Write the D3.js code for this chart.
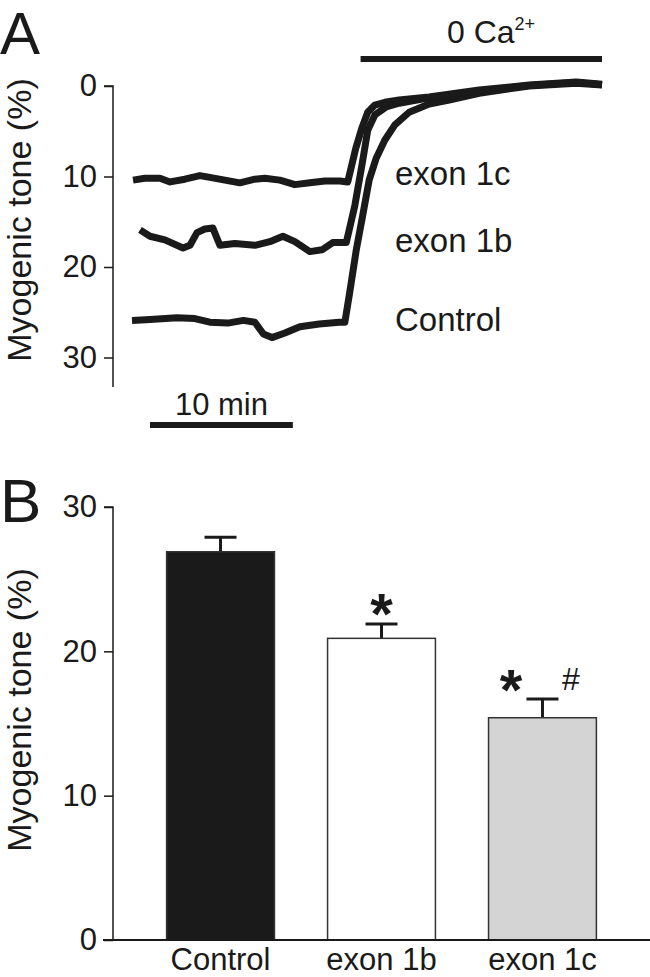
<!DOCTYPE html>
<html><head><meta charset="utf-8">
<script src="https://cdn.jsdelivr.net/npm/d3@7"></script>
<style>
html,body{margin:0;padding:0;background:#fff;}
svg{display:block;font-family:"Liberation Sans",Arial,Helvetica,sans-serif;}
</style></head>
<body>
<svg id="chart" width="650" height="977"></svg>
<script>
// ---------- Panel A data (time in min, tone in %) ----------
const controlTime = [0,1.26,3.15,4.4,5.45,6.7,7.8,8.6,9.2,9.8,10.7,11.75,13.1,14.5,14.9,15.24,15.7,16.15,16.6,17.1,17.7,18.4,19.4,20.8,22.2,24.3,27.8,31.1,32.9];
const controlTone = [25.9,25.8,25.6,25.7,26.1,26.2,25.9,26.1,27.4,27.8,27.3,26.6,26.3,26.1,26.1,22.8,18.1,14.3,10.4,7.95,5.97,4.3,2.9,2.0,1.55,0.8,0.0,-0.3,-0.1];
const exon1bTime = [0.56,1.26,2.3,3.57,4.06,4.55,5.1,5.66,6.15,7.2,8.6,9.65,10.56,11.4,12.45,13.3,14.05,15.0,15.6,16.1,16.5,17.0,17.8,18.7,20.8,24.3,27.8,31.1,32.9];
const exon1bTone = [15.9,16.6,17.0,17.9,17.6,16.2,15.8,15.7,17.6,17.4,17.6,17.2,16.6,17.2,18.3,18.1,17.3,17.3,13.2,8.7,4.9,3.2,2.3,1.9,1.3,0.55,-0.05,-0.4,-0.15];
const exon1cTime = [0.07,0.9,1.96,2.66,3.7,4.75,5.45,6.5,7.55,8.6,9.3,10.35,11.4,12.45,13.5,14.55,15.1,15.3,15.66,16.1,16.5,17.0,17.7,18.7,20.8,24.3,27.8,31.1,32.9];
const exon1cTone = [10.4,10.2,10.2,10.6,10.3,9.9,10.1,10.4,10.7,10.3,10.2,10.4,10.9,10.7,10.5,10.5,10.6,9.3,6.9,4.6,2.9,2.1,1.8,1.55,1.2,0.45,-0.1,-0.45,-0.2];
const traceLabels = ["exon 1c","exon 1b","Control"];
const traceLabelTone = [9.9,17.3,26.1];
const toneTicksA = [0,10,20,30];
const scaleBarMin = [1.26,11.26];
const zeroCaMin = [16.0,32.9];

// ---------- Panel B data ----------
const categories = ["Control","exon 1b","exon 1c"];
const meanTone = [26.9,20.9,15.4];
const semTone = [1.0,1.0,1.3];
const barFills = ["#1a1a1a","#ffffff","#d4d4d4"];
const toneTicksB = [0,10,20,30];

const svg = d3.select("#chart");
const ink = "#1a1a1a";

// ===== Panel A =====
const xA = d3.scaleLinear().domain([0,32.9]).range([132,602]);
const yA = d3.scaleLinear().domain([0,30]).range([86,357.5]);

svg.append("text").attr("x",0).attr("y",54).attr("font-size",60).attr("fill",ink).text("A");

const axA = svg.append("g").attr("transform","translate(113,0)")
  .call(d3.axisLeft(yA).tickValues(toneTicksA).tickSize(9).tickPadding(7).tickFormat(d3.format("d")));
axA.select(".domain").attr("d","M-9,"+yA(0)+"H0V387").attr("stroke",ink).attr("stroke-width",1.5);
axA.selectAll(".tick line").attr("stroke",ink).attr("stroke-width",1.5);
axA.selectAll(".tick text").attr("font-size",31).attr("fill",ink).attr("font-family","Liberation Sans, Arial, sans-serif");

svg.append("text").attr("transform","translate(31,220) rotate(-90)")
  .attr("text-anchor","middle").attr("font-size",34).attr("fill",ink).text("Myogenic tone (%)");

const lineA = d3.line().x(d=>xA(d[0])).y(d=>yA(d[1]));
const traces = [
  d3.zip(controlTime,controlTone),
  d3.zip(exon1bTime,exon1bTone),
  d3.zip(exon1cTime,exon1cTone)
];
svg.append("g").selectAll("path").data(traces).join("path")
  .attr("d",lineA).attr("fill","none").attr("stroke",ink).attr("stroke-width",7)
  .attr("stroke-linejoin","round").attr("stroke-linecap","butt");

svg.append("g").selectAll("text").data(traceLabels).join("text")
  .attr("x",395).attr("y",(d,i)=>yA(traceLabelTone[i])+9)
  .attr("font-size",33).attr("fill",ink).text(d=>d);

// scale bar
svg.append("line").attr("x1",xA(scaleBarMin[0])).attr("x2",xA(scaleBarMin[1]))
  .attr("y1",425).attr("y2",425).attr("stroke",ink).attr("stroke-width",6);
svg.append("text").attr("x",(xA(scaleBarMin[0])+xA(scaleBarMin[1]))/2).attr("y",415)
  .attr("text-anchor","middle").attr("font-size",31).attr("fill",ink).text("10 min");

// 0 Ca bar
svg.append("line").attr("x1",xA(zeroCaMin[0])).attr("x2",xA(zeroCaMin[1]))
  .attr("y1",59).attr("y2",59).attr("stroke",ink).attr("stroke-width",6);
const caT = svg.append("text").attr("x",447).attr("y",43).attr("font-size",32).attr("fill",ink);
caT.append("tspan").text("0 Ca");
caT.append("tspan").attr("font-size",18).attr("dy",-13).text("2+");

// ===== Panel B =====
const xB = d3.scaleBand().domain(categories).range([113,650]).paddingInner(0.33).paddingOuter(0.333);
const yB = d3.scaleLinear().domain([0,30]).range([940,507]);

svg.append("text").attr("x",0).attr("y",522).attr("font-size",62).attr("fill",ink).text("B");

const axB = svg.append("g").attr("transform","translate(113,0)")
  .call(d3.axisLeft(yB).tickValues(toneTicksB).tickSize(9).tickPadding(7).tickFormat(d3.format("d")));
axB.select(".domain").attr("d","M-9,"+yB(30)+"H0V"+yB(0)).attr("stroke",ink).attr("stroke-width",1.5);
axB.selectAll(".tick line").attr("stroke",ink).attr("stroke-width",1.5);
axB.selectAll(".tick text").attr("font-size",31).attr("fill",ink).attr("font-family","Liberation Sans, Arial, sans-serif");

svg.append("text").attr("transform","translate(31,710) rotate(-90)")
  .attr("text-anchor","middle").attr("font-size",34).attr("fill",ink).text("Myogenic tone (%)");

// error bars
const eb = svg.append("g");
categories.forEach((c,i)=>{
  const cx = xB(c)+xB.bandwidth()/2;
  eb.append("line").attr("x1",cx).attr("x2",cx).attr("y1",yB(meanTone[i])).attr("y2",yB(meanTone[i]+semTone[i]))
    .attr("stroke",ink).attr("stroke-width",3);
  eb.append("line").attr("x1",cx-16).attr("x2",cx+16).attr("y1",yB(meanTone[i]+semTone[i])).attr("y2",yB(meanTone[i]+semTone[i]))
    .attr("stroke",ink).attr("stroke-width",3);
});

svg.append("g").selectAll("rect").data(categories).join("rect")
  .attr("x",d=>xB(d)).attr("width",xB.bandwidth())
  .attr("y",(d,i)=>yB(meanTone[i])).attr("height",(d,i)=>yB(0)-yB(meanTone[i]))
  .attr("fill",(d,i)=>barFills[i]).attr("stroke","#333").attr("stroke-width",1.5);

// x baseline
svg.append("line").attr("x1",103).attr("x2",650).attr("y1",yB(0)).attr("y2",yB(0)).attr("stroke",ink).attr("stroke-width",1.8);

// category labels
svg.append("g").selectAll("text").data(categories).join("text")
  .attr("x",d=>xB(d)+xB.bandwidth()/2).attr("y",970).attr("text-anchor","middle")
  .attr("font-size",31).attr("fill",ink).text(d=>d);

// significance marks
const sig = svg.append("g").attr("fill",ink);
sig.append("text").attr("x",xB("exon 1b")+xB.bandwidth()/2).attr("y",634)
  .attr("text-anchor","middle").attr("font-size",58).attr("font-weight","bold").text("*");
sig.append("text").attr("x",511).attr("y",710)
  .attr("text-anchor","middle").attr("font-size",58).attr("font-weight","bold").text("*");
sig.append("text").attr("x",571).attr("y",690).attr("text-anchor","middle").attr("font-size",32).text("#");
</script>
</body></html>
